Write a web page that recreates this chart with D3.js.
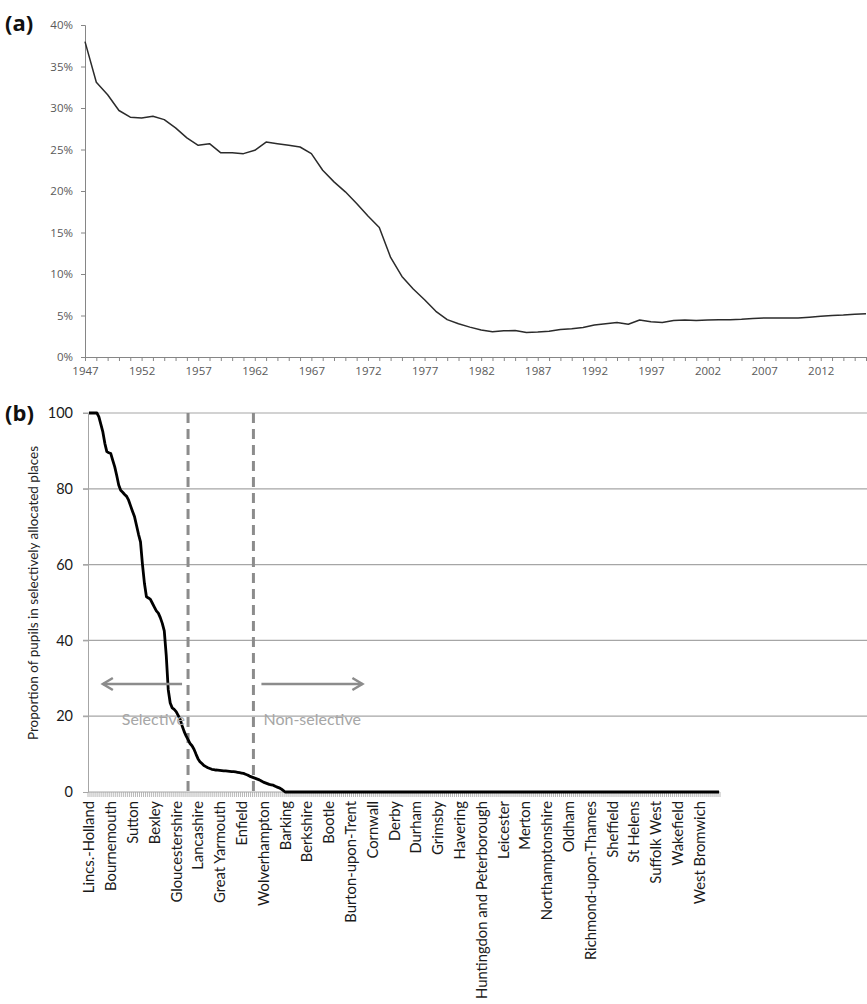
<!DOCTYPE html>
<html lang="en">
<head>
<meta charset="utf-8">
<title>Selective places</title>
<script src="https://d3js.org/d3.v7.min.js"></script>
<style>
  body { margin: 0; background: #fff; }
  svg { display: block; }
  .panel-tag { font-family: "Open Sans", sans-serif; font-weight: bold; font-size: 22px; fill: #111; }
  .axis-a text { font-family: "Open Sans", sans-serif; font-size: 11.5px; fill: #595959; }
  .axis-b text { font-family: Lato, sans-serif; font-size: 14.8px; fill: #1a1a1a; }
  .axis-b .tick text { font-size: 14.5px; }
  .note { font-family: Lato, sans-serif; font-size: 16px; fill: #a6a6a6; }
</style>
</head>
<body>
<script>
// ---- panel (a): share of pupils in selective places, 1947-2016
var years = d3.range(1947, 2017);
var share = [
  38.0, 33.1, 31.6, 29.7, 28.9, 28.8, 29.0, 28.6, 27.6, 26.4,
  25.5, 25.7, 24.6, 24.6, 24.5, 24.9, 25.9, 25.7, 25.5, 25.3,
  24.5, 22.5, 21.1, 19.9, 18.5, 17.0, 15.6, 12.0, 9.7, 8.2,
  6.9, 5.5, 4.5, 4.0, 3.6, 3.25, 3.05, 3.15, 3.2, 2.95,
  3.0, 3.1, 3.3, 3.4, 3.55, 3.85, 4.0, 4.15, 3.95, 4.45,
  4.25, 4.15, 4.4, 4.45, 4.4, 4.45, 4.5, 4.5, 4.55, 4.65,
  4.7, 4.7, 4.7, 4.7, 4.8, 4.9, 5.0, 5.05, 5.15, 5.2
];
var yTicksA = [0, 5, 10, 15, 20, 25, 30, 35, 40];
var yearLabelStep = 5;

// ---- panel (b): proportion of pupils in selectively allocated places, by LEA
var selectiveProp = [
  100, 100, 100, 100, 100, 99, 97, 95, 92, 89.8,
  89.5, 89.3, 87.5, 85.8, 83.5, 81, 79.6, 79.1, 78.5, 78,
  77, 75.5, 74, 72.6, 70.3, 68, 66, 60, 55, 51.5,
  51.2, 50.8, 49.8, 48.8, 47.8, 47.2, 46, 44.5, 42.5, 36,
  27, 23.5, 22.2, 21.8, 21.2, 20.2, 19.2, 17.5, 16, 14.8,
  13.8, 12.8, 12.2, 11.3, 10, 8.8, 8, 7.5, 7, 6.7,
  6.4, 6.2, 6.0, 5.9, 5.8, 5.75, 5.7, 5.65, 5.6, 5.55,
  5.5, 5.45, 5.4, 5.35, 5.3, 5.2, 5.1, 5.0, 4.9, 4.7,
  4.5, 4.2, 4.0, 3.8, 3.6, 3.4, 3.2, 2.9, 2.6, 2.4,
  2.2, 2.0, 1.9, 1.8, 1.5, 1.3, 1.1, 0.8, 0.4, 0
];
var nonSelectiveCount = 219;   // remaining authorities, all at 0
var authorityLabels = [
  "Lincs.-Holland", "Bournemouth", "Sutton", "Bexley", "Gloucestershire",
  "Lancashire", "Great Yarmouth", "Enfield", "Wolverhampton", "Barking",
  "Berkshire", "Bootle", "Burton-upon-Trent", "Cornwall", "Derby",
  "Durham", "Grimsby", "Havering", "Huntingdon and Peterborough", "Leicester",
  "Merton", "Northamptonshire", "Oldham", "Richmond-upon-Thames", "Sheffield",
  "St Helens", "Suffolk West", "Wakefield", "West Bromwich"
];
var labelEvery = 11;
var yTicksB = [0, 20, 40, 60, 80, 100];
var dividers = [50, 83];          // category index of the dashed lines
var arrowLevel = 28.5;
var noteLevel = 17.6;

var W = 867, H = 1004;
var svg = d3.select("body").append("svg").attr("width", W).attr("height", H);
svg.append("rect").attr("width", W).attr("height", H).attr("fill", "#fff");

// ================= panel (a)
var xA = d3.scaleLinear().domain([1947, 2016]).range([85, 866]);
var yA = d3.scaleLinear().domain([0, 40]).range([357, 25]);

var ga = svg.append("g");

ga.append("g")
  .attr("class", "axis-a")
  .attr("transform", "translate(85,0)")
  .call(d3.axisLeft(yA).tickValues(yTicksA).tickSize(4).tickPadding(8)
        .tickFormat(function(d) { return d + "%"; }))
  .call(function(g) {
    g.selectAll("path, line").attr("stroke", "#868686");
  });

ga.append("g")
  .attr("class", "axis-a")
  .attr("transform", "translate(0,357)")
  .call(d3.axisBottom(xA).tickValues(years).tickSize(4).tickPadding(6)
        .tickSizeOuter(0)
        .tickFormat(function(d) { return (d - 1947) % yearLabelStep === 0 ? d : ""; }))
  .call(function(g) {
    g.selectAll("path, line").attr("stroke", "#868686");
  });

var lineA = d3.line()
  .x(function(d, i) { return xA(years[i]); })
  .y(function(d) { return yA(d); });

ga.append("path")
  .datum(share)
  .attr("d", lineA)
  .attr("fill", "none")
  .attr("stroke", "#2b2b2b")
  .attr("stroke-width", 1.5)
  .attr("stroke-linejoin", "round");

svg.append("text").attr("class", "panel-tag").attr("x", 5).attr("y", 31).text("(a)");

// ================= panel (b)
var values = selectiveProp.concat(new Array(nonSelectiveCount).fill(0));
var idx = d3.range(values.length);
var xB = d3.scaleBand().domain(idx).range([88, 720]);
var bw = xB.bandwidth();
function cx(i) { return xB(i) + bw / 2; }
var yB = d3.scaleLinear().domain([0, 100]).range([792, 413]);

var gb = svg.append("g");

// gridlines
gb.selectAll("line.grid")
  .data(yTicksB.filter(function(d) { return d > 0; }))
  .enter().append("line")
  .attr("class", "grid")
  .attr("x1", 83).attr("x2", W)
  .attr("y1", function(d) { return yB(d); })
  .attr("y2", function(d) { return yB(d); })
  .attr("stroke", "#a6a6a6")
  .attr("stroke-width", 1.2);

// y axis
gb.append("g")
  .attr("class", "axis-b")
  .attr("transform", "translate(88,0)")
  .call(d3.axisLeft(yB).tickValues(yTicksB).tickSize(5).tickPadding(10).tickSizeOuter(0))
  .call(function(g) {
    g.selectAll("path, line").attr("stroke", "#a6a6a6");
  });

// x axis: tick at each category boundary, every 11th category named
gb.append("line")
  .attr("x1", 88).attr("x2", 720)
  .attr("y1", 792).attr("y2", 792)
  .attr("stroke", "#a6a6a6");

gb.selectAll("line.xtick")
  .data(idx.concat([values.length]))
  .enter().append("line")
  .attr("class", "xtick")
  .attr("x1", function(i) { return i < values.length ? xB(i) : 720; })
  .attr("x2", function(i) { return i < values.length ? xB(i) : 720; })
  .attr("y1", 792).attr("y2", 797)
  .attr("stroke", "#a6a6a6")
  .attr("stroke-width", 0.8);

var labelIdx = authorityLabels.map(function(d, k) { return k * labelEvery; });

gb.append("g")
  .attr("class", "axis-b")
  .selectAll("text")
  .data(labelIdx)
  .enter().append("text")
  .attr("transform", function(i) { return "translate(" + (cx(i) + 5.5) + ",801) rotate(-90)"; })
  .attr("text-anchor", "end")
  .text(function(i, k) { return authorityLabels[k]; });

// selective / non-selective dividers
gb.selectAll("line.divider")
  .data(dividers)
  .enter().append("line")
  .attr("class", "divider")
  .attr("x1", function(i) { return cx(i); })
  .attr("x2", function(i) { return cx(i); })
  .attr("y1", yB(100)).attr("y2", yB(0))
  .attr("stroke", "#8c8c8c")
  .attr("stroke-width", 3)
  .attr("stroke-dasharray", "10,6");

// the curve
var lineB = d3.line()
  .x(function(d, i) { return cx(i); })
  .y(function(d) { return yB(d); });

gb.append("path")
  .datum(values)
  .attr("d", lineB)
  .attr("fill", "none")
  .attr("stroke", "#000")
  .attr("stroke-width", 2.8)
  .attr("stroke-linejoin", "round");

// arrows
function arrow(x1, x2, y) {
  var dir = x2 > x1 ? 1 : -1;
  gb.append("line")
    .attr("x1", x1).attr("x2", x2).attr("y1", y).attr("y2", y)
    .attr("stroke", "#8c8c8c").attr("stroke-width", 2.5);
  gb.append("path")
    .attr("d", "M" + (x2 - dir * 10) + "," + (y - 6) + "L" + x2 + "," + y + "L" + (x2 - dir * 10) + "," + (y + 6))
    .attr("fill", "none").attr("stroke", "#8c8c8c").attr("stroke-width", 2.5);
}
arrow(cx(dividers[0]) - 6, cx(7), yB(arrowLevel));
arrow(cx(dividers[1]) + 8, cx(138), yB(arrowLevel));

gb.append("text").attr("class", "note")
  .attr("x", cx(dividers[0]) - 3).attr("y", yB(noteLevel))
  .attr("text-anchor", "end").text("Selective");
gb.append("text").attr("class", "note")
  .attr("x", cx(dividers[1]) + 10).attr("y", yB(noteLevel))
  .text("Non-selective");

// y title
gb.append("text")
  .attr("transform", "translate(38,593) rotate(-90)")
  .attr("text-anchor", "middle")
  .style("font-family", "Lato, sans-serif")
  .style("font-size", "13.5px")
  .style("fill", "#222")
  .text("Proportion of pupils in selectively allocated places");

svg.append("text").attr("class", "panel-tag").attr("x", 5).attr("y", 421).text("(b)");
</script>
</body>
</html>
